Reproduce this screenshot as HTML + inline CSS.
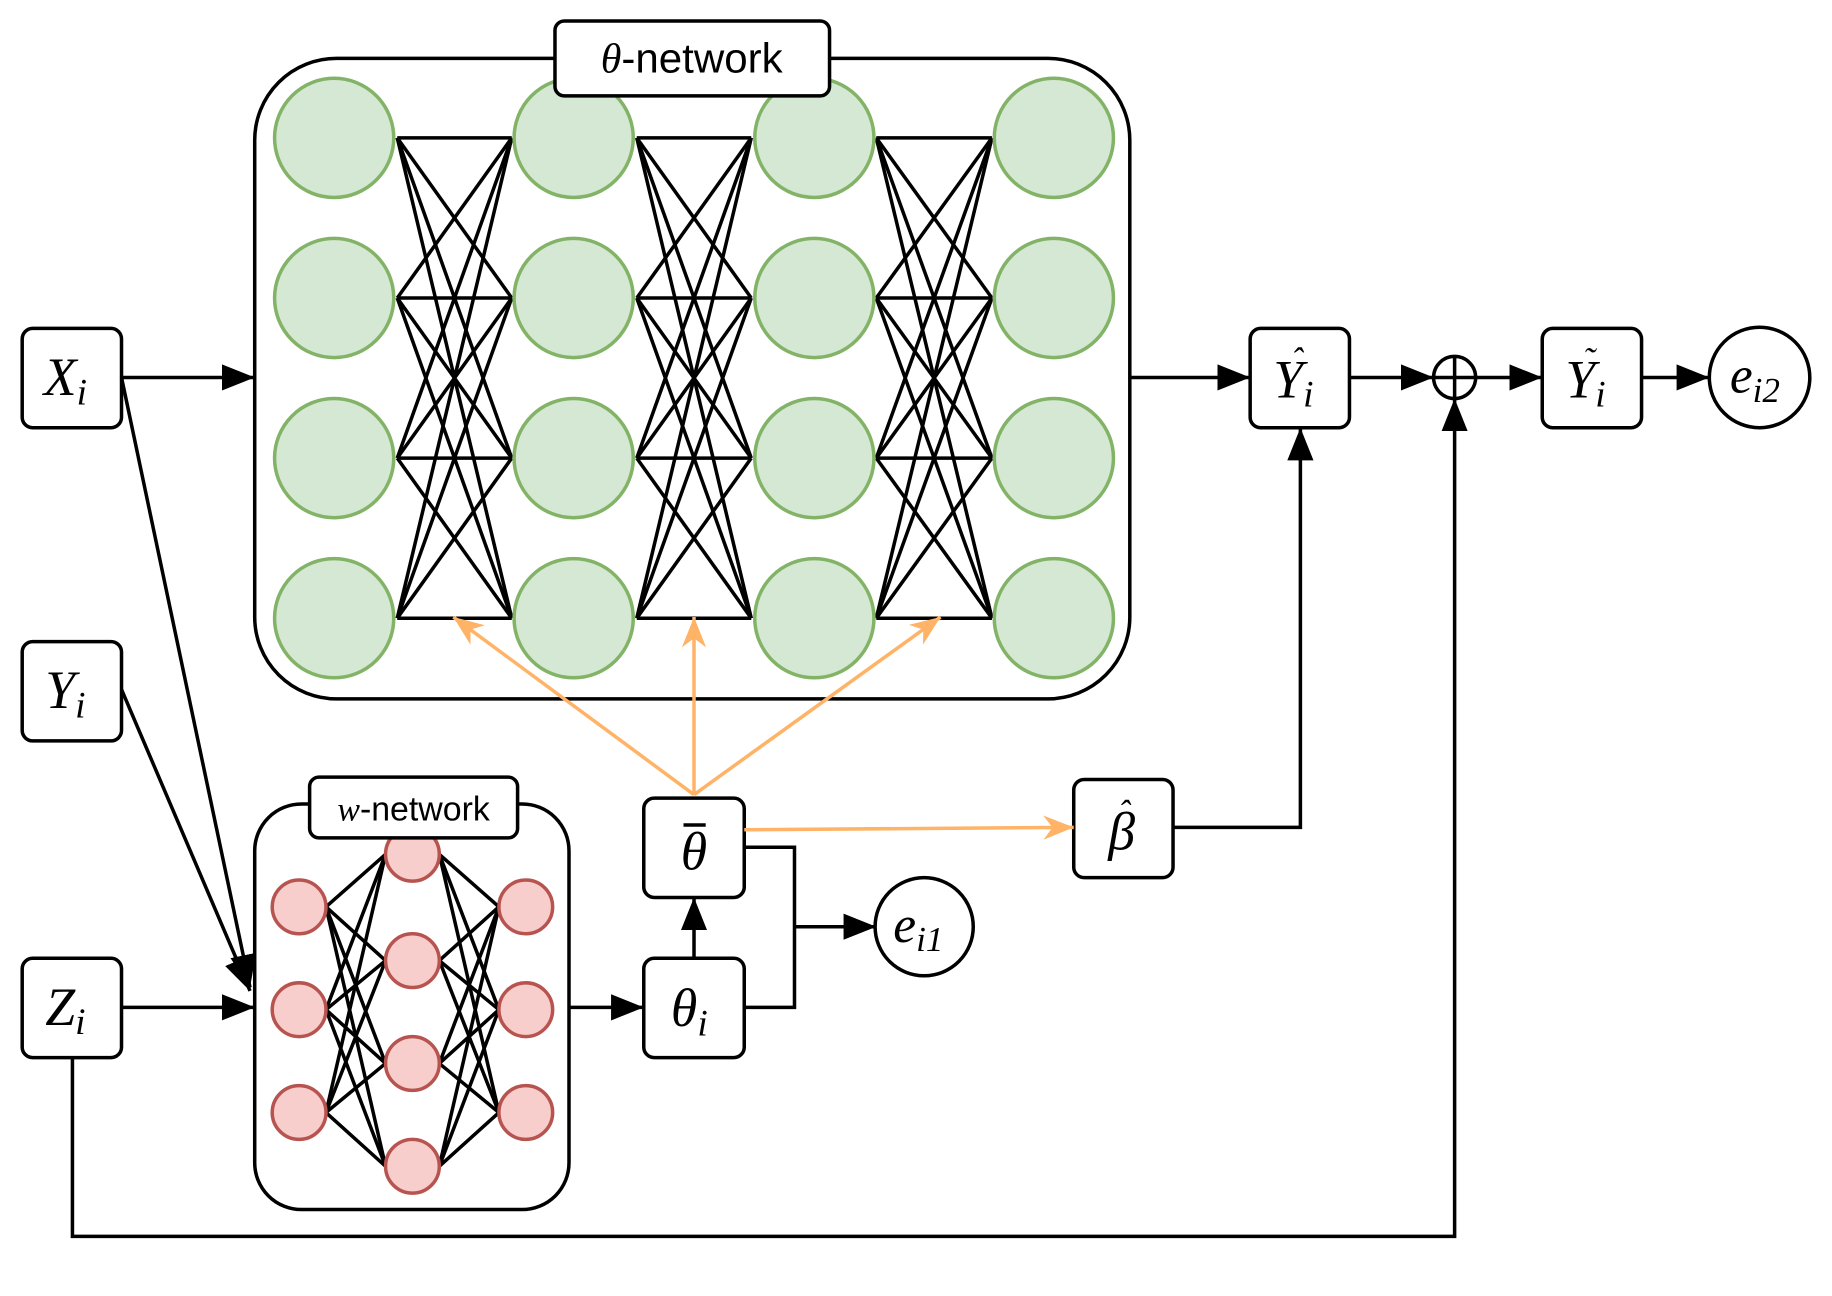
<!DOCTYPE html>
<html><head><meta charset="utf-8"><style>html,body{margin:0;padding:0;background:#fff}svg{display:block}
.m{font-family:"Liberation Serif",serif;font-style:italic}
.s{font-family:"Liberation Sans",sans-serif}</style></head>
<body>
<svg width="1832" height="1296" viewBox="0 0 1568 1109" preserveAspectRatio="none" xmlns="http://www.w3.org/2000/svg">
<defs>
<marker id="ab" viewBox="0 0 10 10" refX="10" refY="5" markerWidth="28" markerHeight="28" markerUnits="userSpaceOnUse" orient="auto"><path d="M0,1L10,5L0,9z" fill="#000"/></marker>
<marker id="ao" viewBox="0 0 10 10" refX="10" refY="5" markerWidth="26" markerHeight="26" markerUnits="userSpaceOnUse" orient="auto"><path d="M0,1L10,5L0,9L3,5z" fill="#ffb366"/></marker>
</defs>
<g fill="none" stroke="#000" stroke-width="3">
<rect x="218" y="50" width="749" height="548" rx="70"/>
<rect x="218" y="688" width="269" height="347" rx="40"/>
</g>
<g stroke="#000" stroke-width="3" id="lines"></g>
<g id="circ"></g>
<g fill="#fff" stroke="#000" stroke-width="3">
<rect x="475" y="18" width="235" height="64" rx="8"/>
<rect x="265" y="665" width="178" height="52" rx="8"/>
<rect x="19" y="281" width="85" height="85" rx="9"/>
<rect x="19" y="549" width="85" height="85" rx="9"/>
<rect x="19" y="820" width="85" height="85" rx="9"/>
<rect x="551" y="683" width="86" height="85" rx="9"/>
<rect x="551" y="820" width="86" height="85" rx="9"/>
<rect x="919" y="667" width="85" height="84" rx="9"/>
<rect x="1070" y="281" width="85" height="85" rx="9"/>
<rect x="1320" y="281" width="85" height="85" rx="9"/>
<circle cx="1506" cy="323" r="43"/>
<circle cx="791" cy="793" r="42"/>
<circle cx="1245" cy="323" r="18"/>
</g>
<g stroke="#000" stroke-width="3" fill="none">
<path d="M1227,323H1263M1245,305V341"/>
<path d="M104,323H218" marker-end="url(#ab)"/>
<path d="M104,323L214,845" marker-end="url(#ab)"/>
<path d="M104,590L214,848" marker-end="url(#ab)"/>
<path d="M104,862H218" marker-end="url(#ab)"/>
<path d="M487,862H551" marker-end="url(#ab)"/>
<path d="M594,820V768" marker-end="url(#ab)"/>
<path d="M637,725H680V862H637M680,793H750" />
<path d="M680,793H750" marker-end="url(#ab)"/>
<path d="M1004,708H1113V366" marker-end="url(#ab)"/>
<path d="M967,323H1070" marker-end="url(#ab)"/>
<path d="M1155,323H1227" marker-end="url(#ab)"/>
<path d="M1263,323H1320" marker-end="url(#ab)"/>
<path d="M1405,323H1463" marker-end="url(#ab)"/>
<path d="M62,905V1058H1245V341" marker-end="url(#ab)"/>
</g>
<g stroke="#ffb366" stroke-width="3" fill="none">
<path d="M594,680L388,528" marker-end="url(#ao)"/>
<path d="M594,680V528" marker-end="url(#ao)"/>
<path d="M594,680L805,528" marker-end="url(#ao)"/>
<path d="M637,710L919,708" marker-end="url(#ao)"/>
</g>
<g text-anchor="middle">
<text x="592" y="62" font-size="36" class="s"><tspan class="m">θ</tspan>-network</text>
<text x="354" y="702" font-size="29" class="s"><tspan class="m">w</tspan>-network</text>
<text x="56" y="338" font-size="46" class="m">X<tspan font-size="32" dy="8">i</tspan></text>
<text x="56" y="606" font-size="46" class="m">Y<tspan font-size="32" dy="8">i</tspan></text>
<text x="56" y="877" font-size="46" class="m">Z<tspan font-size="32" dy="8">i</tspan></text>
<text x="594" y="744" font-size="46" class="m">θ</text>
<path d="M585,706H604" stroke="#000" stroke-width="3"/>
<text x="590" y="878" font-size="46" class="m">θ<tspan font-size="32" dy="8">i</tspan></text>
<text x="960" y="727" font-size="46" class="m">β</text>
<text x="962" y="705" font-size="30" class="m">ˆ</text>
<text x="1107" y="340" font-size="46" class="m">Y<tspan font-size="32" dy="8">i</tspan></text>
<text x="1110" y="318" font-size="30" class="m">ˆ</text>
<text x="1357" y="340" font-size="46" class="m">Y<tspan font-size="32" dy="8">i</tspan></text>
<text x="1360" y="318" font-size="30" class="m">˜</text>
<text x="1502" y="336" font-size="44" class="m">e<tspan font-size="30" dy="8">i2</tspan></text>
<text x="786" y="806" font-size="44" class="m">e<tspan font-size="30" dy="8">i1</tspan></text>
</g>
<script>
var NS="http://www.w3.org/2000/svg",L=document.getElementById("lines"),C=document.getElementById("circ");
function ln(a,b,c,d){var e=document.createElementNS(NS,"line");e.setAttribute("x1",a);e.setAttribute("y1",b);e.setAttribute("x2",c);e.setAttribute("y2",d);L.appendChild(e);}
function ci(x,y,r,f,s){var e=document.createElementNS(NS,"circle");e.setAttribute("cx",x);e.setAttribute("cy",y);e.setAttribute("r",r);e.setAttribute("fill",f);e.setAttribute("stroke",s);e.setAttribute("stroke-width",3);C.appendChild(e);}
var R=[118,255,392,529],P=[[340,438],[545,643],[750,849]];
P.forEach(function(p){R.forEach(function(a){R.forEach(function(b){ln(p[0],a,p[1],b);});});});
[286,491,697,902].forEach(function(x){R.forEach(function(y){ci(x,y,51,"#d5e8d4","#82b366");});});
var A=[776,864,952],B=[731,822,910,998];
A.forEach(function(a){B.forEach(function(b){ln(279,a,330,b);ln(376,b,427,a);});});
A.forEach(function(y){ci(256,y,23,"#f8cecc","#b85450");ci(450,y,23,"#f8cecc","#b85450");});
B.forEach(function(y){ci(353,y,23,"#f8cecc","#b85450");});
</script>
</svg>
</body></html>
